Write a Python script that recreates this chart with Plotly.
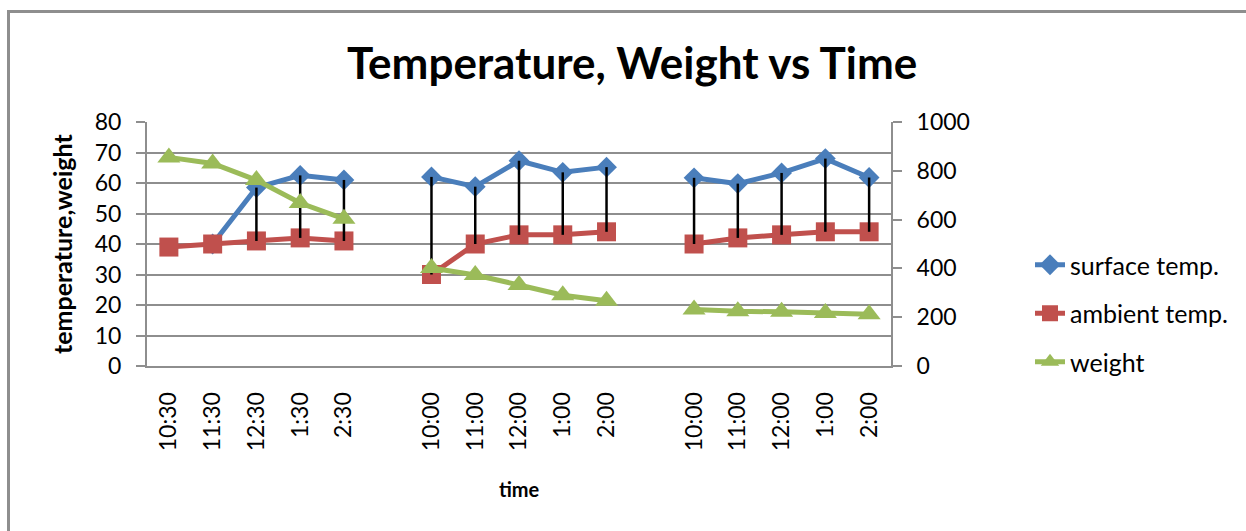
import plotly.graph_objects as go

# Category labels along the time axis ("" marks the blank gap between days)
times = ["10:30", "11:30", "12:30", "1:30", "2:30", "",
         "10:00", "11:00", "12:00", "1:00", "2:00", "",
         "10:00", "11:00", "12:00", "1:00", "2:00"]

surface_temp = [None, 40, 58.5, 62.5, 61, None,
                62, 58.8, 67.3, 63.5, 65.2, None,
                61.7, 59.8, 63.3, 68, 61.8]
ambient_temp = [39, 40, 41, 42, 41, None,
                30, 40, 43, 43, 44, None,
                40, 42, 43, 44, 44]
weight = [855, 830, 762, 668, 603, None,
          402, 373, 332, 290, 267, None,
          232, 224, 222, 217, 212]

W, H = 1246, 531
FONT = "Lato, Calibri, Carlito, sans-serif"
BLUE, RED, GREEN = "#4a7ebb", "#c0504d", "#9bbb59"
GRID = "#8e8e8e"

xpos = list(range(len(times)))
tick_idx = [i for i, t in enumerate(times) if t]

# high-low connector segments between the two temperature series
hl_x, hl_y = [], []
for i, (s, a) in enumerate(zip(surface_temp, ambient_temp)):
    if s is None or a is None:
        continue
    hl_x += [i, i, None]
    hl_y += [max(s, a), min(s, a), None]

fig = go.Figure()
fig.add_trace(go.Scatter(
    x=xpos, y=surface_temp, name="surface temp.", mode="lines+markers",
    line=dict(color=BLUE, width=5), connectgaps=False,
    marker=dict(symbol="diamond", size=16, color=BLUE),
    legendgroup="a"))
fig.add_trace(go.Scatter(
    x=xpos, y=ambient_temp, name="ambient temp.", mode="lines+markers",
    line=dict(color=RED, width=5), connectgaps=False,
    marker=dict(symbol="square", size=19, color=RED),
    legendgroup="b"))
fig.add_trace(go.Scatter(
    x=hl_x, y=hl_y, mode="lines", line=dict(color="black", width=2.5),
    showlegend=False, hoverinfo="skip"))
fig.add_trace(go.Scatter(
    x=xpos, y=weight, name="weight", mode="lines+markers", yaxis="y2",
    line=dict(color=GREEN, width=5), connectgaps=False,
    marker=dict(symbol="triangle-up", size=20, color=GREEN),
    legendgroup="c"))

px = lambda v: v / W
py = lambda v: (H - v) / H

fig.update_layout(
    width=W, height=H, margin=dict(l=0, r=0, t=0, b=0, autoexpand=False),
    paper_bgcolor="white", plot_bgcolor="white",
    font=dict(family=FONT, color="black", size=22),
    xaxis=dict(
        domain=[px(147), px(891)], range=[-0.5, len(times) - 0.5],
        tickmode="array", tickvals=tick_idx,
        ticktext=[times[i] for i in tick_idx],
        tickangle=-90, ticks="", showgrid=False, zeroline=False,
        showline=True, linecolor=GRID, linewidth=2, automargin=False,
        tickfont=dict(size=23), ticklabelstandoff=15),
    yaxis=dict(
        domain=[py(366), py(122)], range=[0, 80], dtick=10,
        showgrid=True, gridcolor=GRID, gridwidth=1.5, zeroline=False,
        showline=True, linecolor=GRID, linewidth=2, automargin=False,
        ticks="outside", ticklen=9, tickcolor=GRID, tickwidth=2,
        tickfont=dict(size=23), ticklabelstandoff=10),
    yaxis2=dict(
        overlaying="y", side="right", range=[0, 1000], dtick=200,
        showgrid=False, zeroline=False, automargin=False,
        showline=True, linecolor=GRID, linewidth=2,
        ticks="outside", ticklen=9, tickcolor=GRID, tickwidth=2,
        tickfont=dict(size=23), ticklabelstandoff=10),
    legend=dict(
        x=px(1030), y=py(242), xanchor="left", yanchor="top",
        traceorder="grouped", tracegroupgap=13,
        font=dict(size=25), bgcolor="rgba(0,0,0,0)"),
    showlegend=True,
    annotations=[
        dict(text="<b>Temperature, Weight vs Time</b>", x=px(632), y=py(62),
             xref="paper", yref="paper", showarrow=False,
             xanchor="center", yanchor="middle",
             font=dict(size=44, family=FONT)),
        dict(text="<b>temperature,weight</b>", x=px(62), y=py(244),
             xref="paper", yref="paper", showarrow=False, textangle=-90,
             xanchor="center", yanchor="middle",
             font=dict(size=25, family=FONT)),
        dict(text="<b>time</b>", x=px(519), y=py(489),
             xref="paper", yref="paper", showarrow=False,
             xanchor="center", yanchor="middle",
             font=dict(size=20, family=FONT)),
    ],
    shapes=[dict(type="rect", xref="paper", yref="paper",
                 x0=px(8.5), y0=-0.05, x1=1.05, y1=py(11.5),
                 line=dict(color=GRID, width=3), layer="below")],
)

fig.write_html("out.html")
